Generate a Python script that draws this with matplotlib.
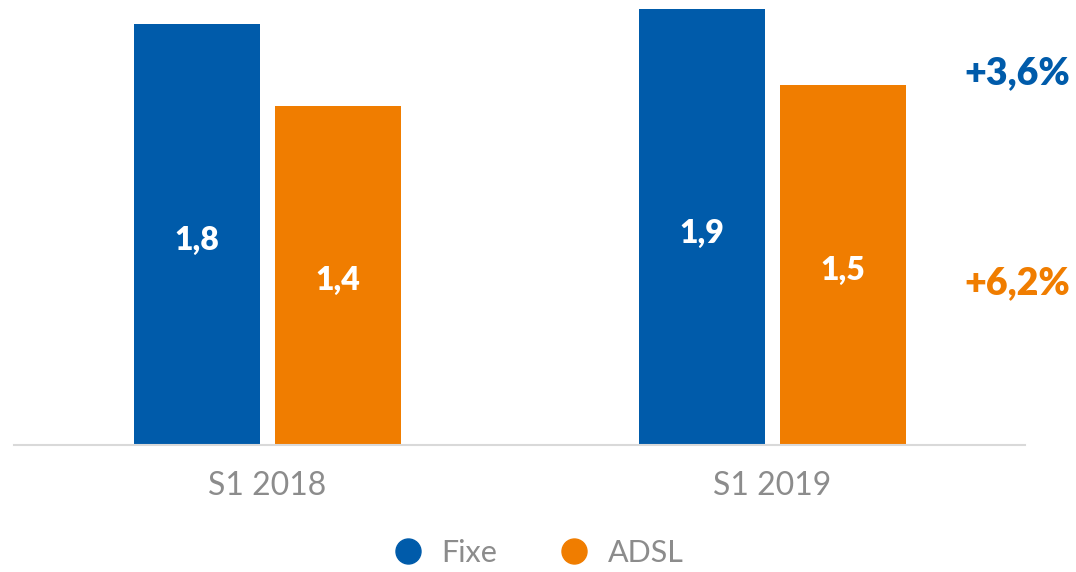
import numpy as np
import matplotlib.pyplot as plt
from matplotlib.lines import Line2D

# data
periods = ['S1 2018', 'S1 2019']
fixe = [1.80, 1.865]
adsl = [1.45, 1.54]
fixe_labels = ['1,8', '1,9']
adsl_labels = ['1,4', '1,5']
growth = ['+3,6%', '+6,2%']

blue = '#005BAA'
orange = '#F07D00'
grey = '#8C8C8C'

plt.rcParams['font.family'] = ['Lato', 'DejaVu Sans']

fig = plt.figure(figsize=(10.76, 5.72), dpi=100)
ax = fig.add_axes([14/1076, 127/572, 1011/1076, 445/572])

x = np.arange(len(periods))
w = 0.25
off = 0.14
b1 = ax.bar(x - off, fixe, w, color=blue)
b2 = ax.bar(x + off, adsl, w, color=orange)

# value labels, a bit under the bar middle
for bars, labs in [(b1, fixe_labels), (b2, adsl_labels)]:
    for b, lab in zip(bars, labs):
        ax.text(b.get_x() + b.get_width()/2, b.get_height()*0.485, lab,
                ha='center', va='center', color='white', fontsize=23, fontweight='heavy')

ax.set_xlim(-0.502, 1.5)
ax.set_ylim(0, 1.903)
ax.set_yticks([])
ax.set_xticks(x)
ax.set_xticklabels(periods, fontsize=23, color=grey)
ax.tick_params(axis='x', length=0, pad=19)
for s in ['top', 'right', 'left']:
    ax.spines[s].set_visible(False)
ax.spines['bottom'].set_color('#D9D9D9')
ax.spines['bottom'].set_linewidth(1.5)

# growth annotations
fig.text(1070/1076, 1 - 73/572, growth[0], ha='right', va='center',
         color=blue, fontsize=27, fontweight='heavy')
fig.text(1070/1076, 1 - 283/572, growth[1], ha='right', va='center',
         color=orange, fontsize=27, fontweight='heavy')

handles = [Line2D([], [], marker='o', ls='', color=blue, markersize=18),
           Line2D([], [], marker='o', ls='', color=orange, markersize=18)]
fig.legend(handles, ['Fixe', 'ADSL'], loc='center', bbox_to_anchor=(0.5, 1 - 553/572),
           ncol=2, frameon=False, fontsize=22, labelcolor=grey,
           handletextpad=0.6, columnspacing=2.0, handlelength=1.0)

fig.savefig('out.png', dpi=100)
